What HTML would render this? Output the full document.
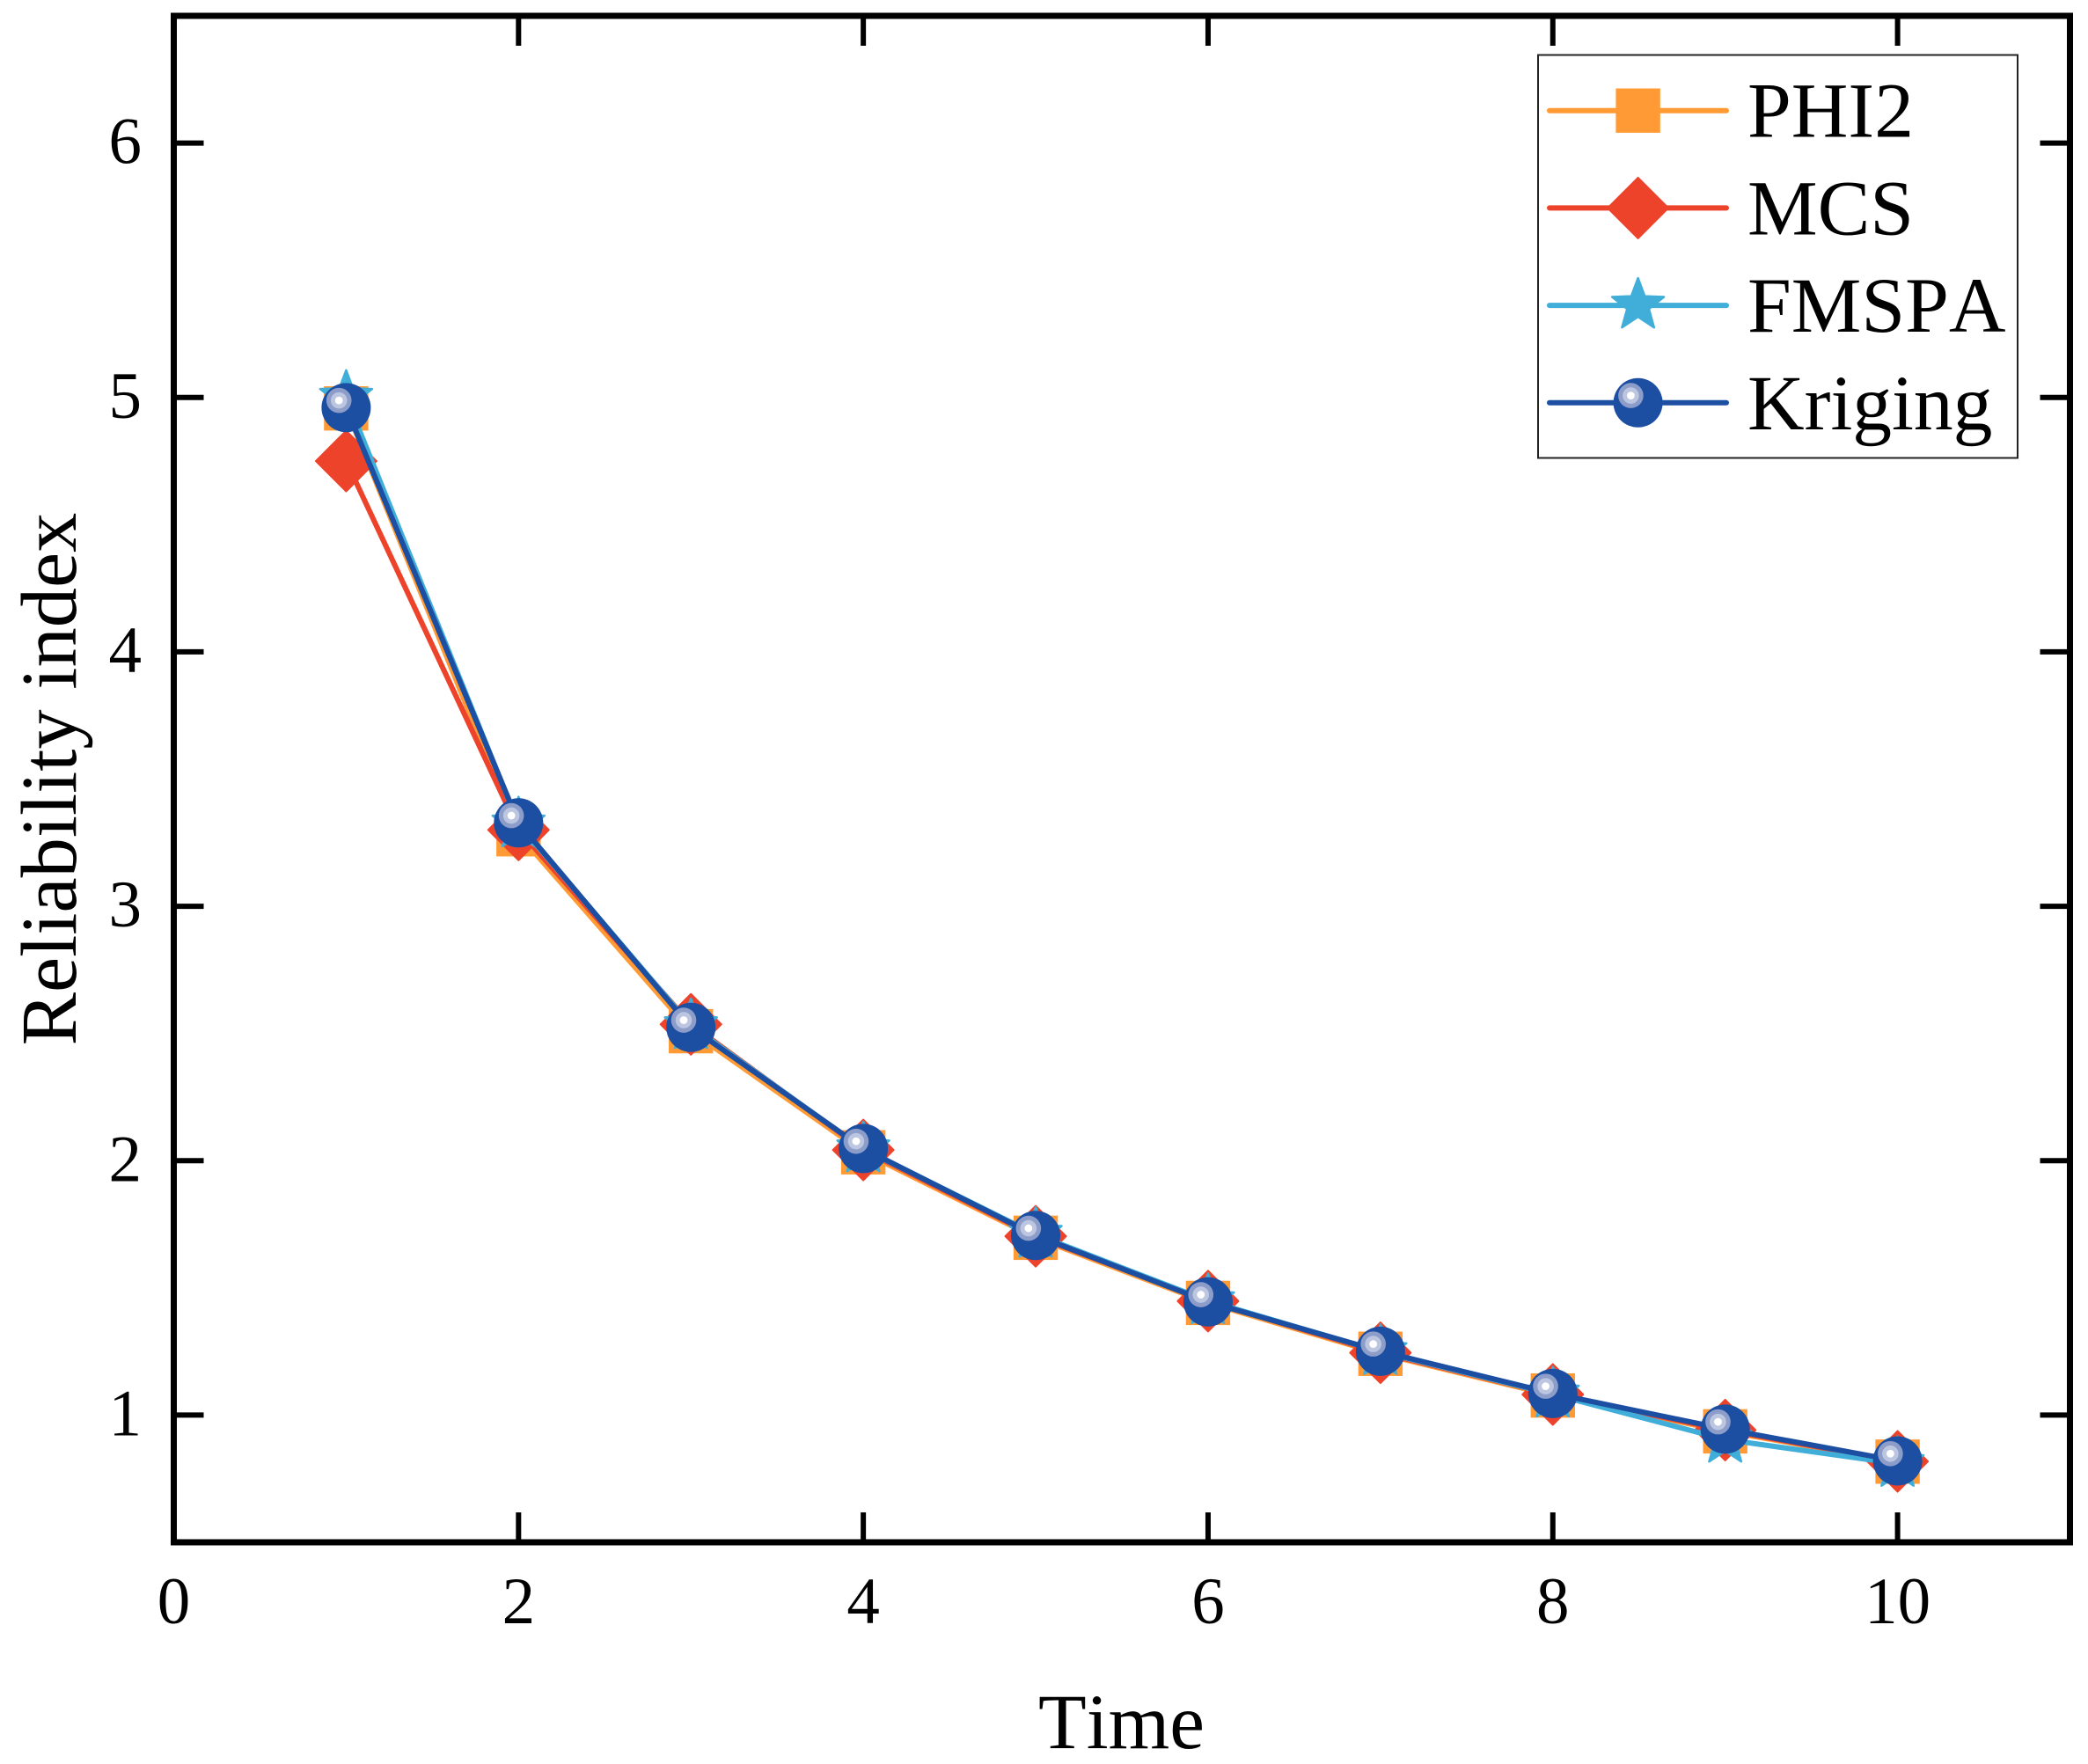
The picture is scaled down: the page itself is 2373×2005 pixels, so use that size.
<!DOCTYPE html>
<html lang="en">
<head>
<meta charset="utf-8">
<title>Reliability index over time</title>
<style>
  html, body { margin: 0; padding: 0; background: #ffffff; }
  body { width: 2373px; height: 2005px; overflow: hidden; }
  svg { display: block; }
  text { font-family: "Liberation Serif", "Times New Roman", serif; fill: #000000; font-kerning: none; }
</style>
</head>
<body>
<svg id="chart" xmlns="http://www.w3.org/2000/svg" width="2373" height="2005" viewBox="0 0 2373 2005">
  <rect x="0" y="0" width="2373" height="2005" fill="#ffffff"></rect>
  <g id="ticks"></g>
  <g id="tick-labels" font-size="75"></g>
  <g id="series"></g>
  <rect x="197.5" y="18" width="2155" height="1735" fill="none" stroke="#000000" stroke-width="7"></rect>
  <text x="1274.5" y="1987" font-size="89.5" text-anchor="middle">Time</text>
  <text transform="translate(86 885.5) rotate(-90)" font-size="90.5" text-anchor="middle">Reliability index</text>
  <g id="legend">
    <rect x="1748" y="62.5" width="545" height="458" fill="#ffffff" stroke="#222222" stroke-width="2"></rect>
  </g>
</svg>
<script>
const timeSteps = [1, 2, 3, 4, 5, 6, 7, 8, 9, 10];
const phi2Values = [4.957, 3.283, 2.509, 2.033, 1.697, 1.441, 1.241, 1.077, 0.936, 0.817];
const mcsValues = [4.75, 3.30, 2.536, 2.042, 1.703, 1.448, 1.245, 1.081, 0.941, 0.818];
const fmspaValues = [5.0, 3.323, 2.53, 2.046, 1.71, 1.449, 1.249, 1.082, 0.904, 0.809];
const krigingValues = [4.96, 3.328, 2.524, 2.048, 1.706, 1.445, 1.251, 1.085, 0.945, 0.82];
const xTickLabels = [0, 2, 4, 6, 8, 10];
const yTickLabels = [1, 2, 3, 4, 5, 6];
const seriesNames = ["PHI2", "MCS", "FMSPA", "Kriging"];

const SVG_NS = "http://www.w3.org/2000/svg";
const PLOT = { left: 197.5, right: 2352.5, top: 18, bottom: 1753 };
const X_RANGE = [0, 11];
const Y_RANGE = [0.5, 6.5];
const COLORS = { orange: "#ff9a35", red: "#ee432b", cyan: "#40aed8", blue: "#1c4ea2" };

function xScale(v) {
  return PLOT.left + (v - X_RANGE[0]) / (X_RANGE[1] - X_RANGE[0]) * (PLOT.right - PLOT.left);
}
function yScale(v) {
  return PLOT.bottom - (v - Y_RANGE[0]) / (Y_RANGE[1] - Y_RANGE[0]) * (PLOT.bottom - PLOT.top);
}
function make(tag, attrs, parent) {
  const el = document.createElementNS(SVG_NS, tag);
  for (const k in attrs) el.setAttribute(k, attrs[k]);
  parent.appendChild(el);
  return el;
}

function drawSquare(parent, cx, cy, color, name) {
  const el = make("rect", { x: cx - 25.2, y: cy - 25.2, width: 50.4, height: 50.4, fill: color }, parent);
  
  
}
function drawDiamond(parent, cx, cy, color, name) {
  const r = 34.5;
  const pts = [[cx, cy - r], [cx + r, cy], [cx, cy + r], [cx - r, cy]].map(p => p.join(",")).join(" ");
  const el = make("polygon", { points: pts, fill: color, stroke: color, "stroke-width": 2, "stroke-linejoin": "round" }, parent);
  
  
}
function drawStar(parent, cx, cy, color, name) {
  const R = 31;
  const r = 13;
  const pts = [];
  for (let i = 0; i < 10; i++) {
    const a = -Math.PI / 2 + i * Math.PI / 5;
    const d = i % 2 === 0 ? R : r;
    pts.push((cx + d * Math.cos(a)).toFixed(2) + "," + (cy + d * Math.sin(a)).toFixed(2));
  }
  const el = make("polygon", { points: pts.join(" "), fill: color, stroke: color, "stroke-width": 2.5, "stroke-linejoin": "round" }, parent);
  
  
}
function drawSphere(parent, cx, cy, color, name) {
  const g = make("g", {}, parent);
  
  
  make("circle", { cx: cx, cy: cy, r: 28, fill: color }, g);
  make("circle", { cx: cx - 8.2, cy: cy - 8.2, r: 14.3, fill: "#8c9dc9" }, g);
  make("circle", { cx: cx - 8.2, cy: cy - 8.2, r: 9.3, fill: "#bcc6e0" }, g);
  make("circle", { cx: cx - 8.2, cy: cy - 8.2, r: 4.4, fill: "#ffffff" }, g);
}

/* Ticks on all four sides */
const tickGroup = document.getElementById("ticks");
const labelGroup = document.getElementById("tick-labels");
const TICK_LEN = 34;
xTickLabels.forEach(function (t) {
  const x = xScale(t);
  if (t !== 0) {
    const b = make("line", { x1: x, x2: x, y1: PLOT.bottom, y2: PLOT.bottom - TICK_LEN, stroke: "#000", "stroke-width": 6 }, tickGroup);
    
    
    const a = make("line", { x1: x, x2: x, y1: PLOT.top, y2: PLOT.top + TICK_LEN, stroke: "#000", "stroke-width": 6 }, tickGroup);
    
    
  }
  const lab = make("text", { x: x, y: 1845, "text-anchor": "middle" }, labelGroup);
  
  
  lab.textContent = t;
});
yTickLabels.forEach(function (t) {
  const y = yScale(t);
  const l = make("line", { x1: PLOT.left, x2: PLOT.left + TICK_LEN, y1: y, y2: y, stroke: "#000", "stroke-width": 6 }, tickGroup);
  
  
  const r = make("line", { x1: PLOT.right, x2: PLOT.right - TICK_LEN, y1: y, y2: y, stroke: "#000", "stroke-width": 6 }, tickGroup);
  
  
  const lab = make("text", { x: 161, y: y + 23, "text-anchor": "end" }, labelGroup);
  
  
  lab.textContent = t;
});

/* Series */
const seriesGroup = document.getElementById("series");
function drawSeries(values, color, marker, key) {
  const g = make("g", {}, seriesGroup);
  
  
  const pts = values.map(function (v, i) {
    return xScale(timeSteps[i]).toFixed(2) + "," + yScale(v).toFixed(2);
  }).join(" ");
  const line = make("polyline", { points: pts, fill: "none", stroke: color, "stroke-width": 6, "stroke-linejoin": "round", "stroke-linecap": "round" }, g);
  
  
  values.forEach(function (v, i) {
    marker(g, xScale(timeSteps[i]), yScale(v), color, 'point-' + key);
  });
}
drawSeries(phi2Values, COLORS.orange, drawSquare, "phi2");
drawSeries(mcsValues, COLORS.red, drawDiamond, "mcs");
drawSeries(fmspaValues, COLORS.cyan, drawStar, "fmspa");
drawSeries(krigingValues, COLORS.blue, drawSphere, "kriging");

/* Legend */
const legendGroup = document.getElementById("legend");
const legendColors = [COLORS.orange, COLORS.red, COLORS.cyan, COLORS.blue];
const legendMarkers = [drawSquare, drawDiamond, drawStar, drawSphere];
const LEGEND_FIRST_Y = 125.7;
const LEGEND_ROW_GAP = 110.7;
seriesNames.forEach(function (name, i) {
  const y = LEGEND_FIRST_Y + i * LEGEND_ROW_GAP;
  const g = make("g", {}, legendGroup);
  
  
  const s = make("line", { x1: 1761, x2: 1962, y1: y, y2: y, stroke: legendColors[i], "stroke-width": 6, "stroke-linecap": "round" }, g);
  
  
  legendMarkers[i](g, 1861.6, y, legendColors[i], 'legend-marker');
  const t = make("text", { x: 1986, y: y + 30, "font-size": 89.5 }, g);
  
  
  t.textContent = name;
});
</script>
</body>
</html>
